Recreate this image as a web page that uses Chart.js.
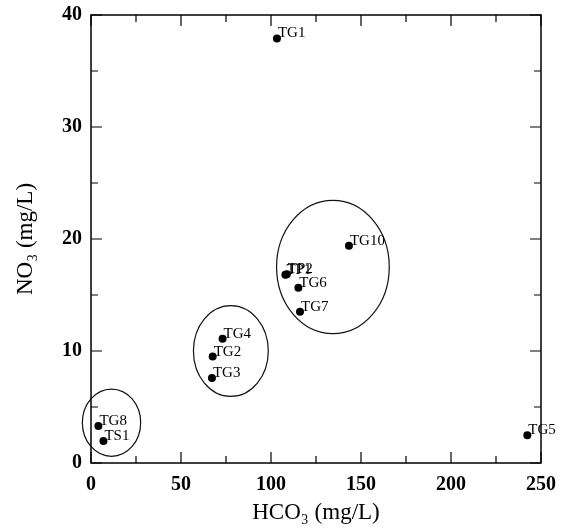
<!DOCTYPE html>
<html>
<head>
<meta charset="utf-8">
<script src="https://cdn.jsdelivr.net/npm/chart.js@4.4.1/dist/chart.umd.min.js"></script>
<style>
  html, body { margin: 0; padding: 0; background: #fff; }
  #wrap { width: 565px; height: 530px; position: relative; }
</style>
</head>
<body>
<div id="wrap"><canvas id="chart"></canvas></div>
<script>
// Messpunkte HCO3 / NO3
var sampleNames = ['TG1', 'TG10', 'TP1', 'TP2', 'TG6', 'TG7', 'TG4', 'TG2', 'TG3', 'TG8', 'TS1', 'TG5'];
var hco3 = [103.3, 143.3, 108.0, 108.8, 115.2, 116.1, 73.1, 67.6, 67.2, 4.1, 6.9, 242.4];
var no3 = [37.9, 19.4, 16.8, 16.85, 15.65, 13.5, 11.1, 9.5, 7.6, 3.3, 1.96, 2.47];

// Gruppen-Ellipsen (Datenkoordinaten)
var ellipseCx = [11.4, 77.7, 134.4];
var ellipseCy = [3.6, 10.0, 17.5];
var ellipseRx = [16.2, 20.8, 31.3];
var ellipseRy = [3.0, 4.06, 5.95];

var xTicks = [0, 50, 100, 150, 200, 250];
var yTicks = [0, 10, 20, 30, 40];

var points = hco3.map(function (v, i) { return { x: v, y: no3[i] }; });

var serif = '"Liberation Serif", "DejaVu Serif", serif';

// Rahmen, Ticks nach innen, Ellipsen und Beschriftungen
var decor = {
  id: 'decor',
  beforeDatasetsDraw: function (chart) {
    var c = chart.ctx, x = chart.scales.x, y = chart.scales.y;
    c.save();
    c.strokeStyle = '#111';
    c.lineWidth = 1.2;
    for (var i = 0; i < ellipseCx.length; i++) {
      var cx = x.getPixelForValue(ellipseCx[i]);
      var cy = y.getPixelForValue(ellipseCy[i]);
      var rx = Math.abs(x.getPixelForValue(ellipseCx[i] + ellipseRx[i]) - cx);
      var ry = Math.abs(y.getPixelForValue(ellipseCy[i] + ellipseRy[i]) - cy);
      c.beginPath();
      c.ellipse(cx, cy, rx, ry, 0, 0, Math.PI * 2);
      c.stroke();
    }
    c.restore();
  },
  afterDatasetsDraw: function (chart) {
    var c = chart.ctx, x = chart.scales.x, y = chart.scales.y, a = chart.chartArea;
    c.save();
    c.strokeStyle = '#000';
    c.lineWidth = 1.5;
    c.strokeRect(a.left, a.top, a.right - a.left, a.bottom - a.top);
    c.lineWidth = 1.2;
    c.beginPath();
    for (var v = 0; v <= 250; v += 25) {
      var px = x.getPixelForValue(v);
      var len = v % 50 === 0 ? 11 : 7;
      c.moveTo(px, a.bottom); c.lineTo(px, a.bottom - len);
      c.moveTo(px, a.top); c.lineTo(px, a.top + len);
    }
    for (var w = 0; w <= 40; w += 5) {
      var py = y.getPixelForValue(w);
      var l2 = w % 10 === 0 ? 11 : 7;
      c.moveTo(a.left, py); c.lineTo(a.left + l2, py);
      c.moveTo(a.right, py); c.lineTo(a.right - l2, py);
    }
    c.stroke();

    c.fillStyle = '#000';
    c.font = '15px ' + serif;
    c.textBaseline = 'middle';
    c.textAlign = 'left';
    for (var k = 0; k < sampleNames.length; k++) {
      var lx = x.getPixelForValue(hco3[k]);
      var ly = y.getPixelForValue(no3[k]);
      c.fillText(sampleNames[k], lx + 1, ly - 5);
    }
    c.restore();
  }
};

new Chart(document.getElementById('chart'), {
  type: 'scatter',
  data: {
    datasets: [{
      data: points,
      pointRadius: 4,
      pointHoverRadius: 4,
      backgroundColor: '#000',
      borderColor: '#000',
      borderWidth: 0
    }]
  },
  options: {
    responsive: true,
    maintainAspectRatio: false,
    animation: false,
    layout: { padding: { top: 15, right: 24, left: 0, bottom: 0 } },
    plugins: { legend: { display: false }, tooltip: { enabled: false } },
    scales: {
      x: {
        type: 'linear',
        min: 0, max: 250,
        afterFit: function (s) { s.height = 67; s.paddingLeft = 0; s.paddingRight = 0; },
        afterBuildTicks: function (s) { s.ticks = xTicks.map(function (v) { return { value: v }; }); },
        grid: { display: false, drawTicks: false },
        border: { display: false },
        ticks: { color: '#000', padding: 10, font: { family: serif, size: 20, weight: 'bold' }, maxRotation: 0 },
        title: { display: true, text: 'HCO₃ (mg/L)', color: '#000', font: { family: serif, size: 23 }, padding: { top: 0, bottom: 3 } }
      },
      y: {
        type: 'linear',
        min: 0, max: 40,
        afterFit: function (s) { s.width = 91; s.paddingTop = 0; s.paddingBottom = 0; },
        afterBuildTicks: function (s) { s.ticks = yTicks.map(function (v) { return { value: v }; }); },
        grid: { display: false, drawTicks: false },
        border: { display: false },
        ticks: { color: '#000', padding: 9, font: { family: serif, size: 20, weight: 'bold' } },
        title: { display: true, text: 'NO₃ (mg/L)', color: '#000', font: { family: serif, size: 23 }, padding: { top: 12, bottom: 0 } }
      }
    }
  },
  plugins: [decor]
});
</script>
</body>
</html>
